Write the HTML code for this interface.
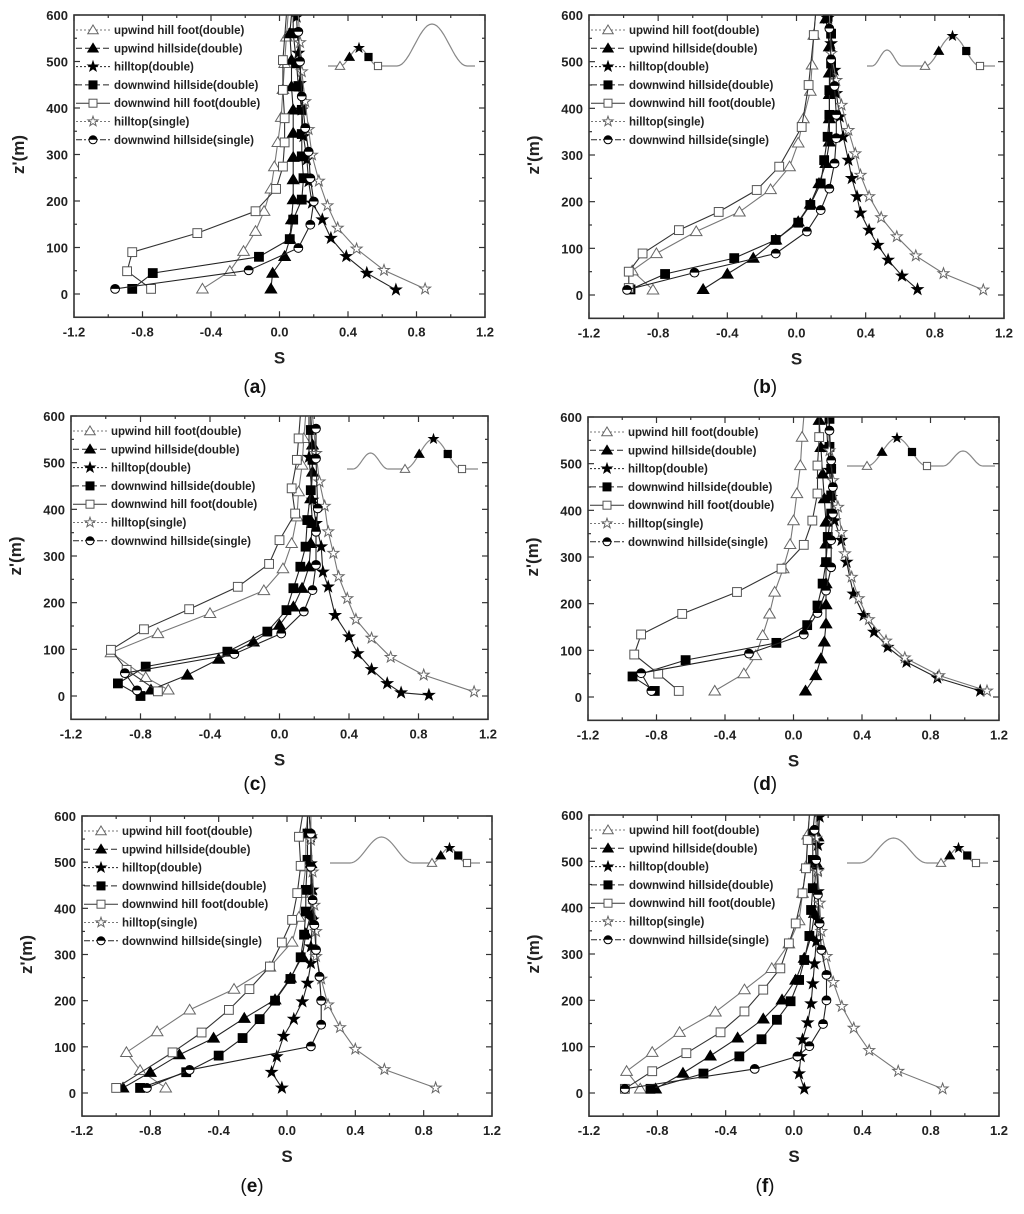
<!DOCTYPE html>
<html><head><meta charset="utf-8"><style>
body{margin:0;background:#fff}
svg{display:block}
text{font-family:"Liberation Sans",sans-serif}
</style></head><body>
<svg id="fig" width="1024" height="1214" viewBox="0 0 1024 1214" xmlns="http://www.w3.org/2000/svg"></svg>
<script>
// ---- data: [S, z'] pairs ----
const a_upFoot=[[-0.45,11],[-0.29,49],[-0.21,92],[-0.14,135],[-0.09,178],[-0.05,226],[-0.03,274],[-0.01,326],[0.01,380],[0.02,440],[0.03,496],[0.04,553],[0.05,600]];
const a_upSide=[[-0.05,11],[-0.04,45],[0.03,81],[0.06,118],[0.07,160],[0.08,203],[0.08,246],[0.08,294],[0.08,346],[0.08,396],[0.07,446],[0.07,503],[0.06,560],[0.07,600]];
const a_top=[[0.68,9],[0.51,45],[0.39,81],[0.30,120],[0.25,160],[0.19,196],[0.17,242],[0.16,289],[0.14,339],[0.13,396],[0.12,453],[0.11,518],[0.10,596]];
const a_dwSide=[[-0.86,11],[-0.74,45],[-0.12,80],[0.06,118],[0.08,160],[0.13,203],[0.14,249],[0.13,296],[0.13,344],[0.13,396],[0.11,446],[0.10,496],[0.08,561],[0.08,600]];
const a_dwFoot=[[-0.75,11],[-0.89,49],[-0.86,90],[-0.48,131],[-0.14,178],[-0.02,226],[0.02,274],[0.03,326],[0.03,378],[0.02,439],[0.02,503],[0.04,600]];
const a_topS=[[0.85,11],[0.61,51],[0.45,97],[0.34,142],[0.28,190],[0.23,243],[0.19,299],[0.17,354],[0.15,414],[0.13,478],[0.12,541],[0.11,600]];
const a_dwSideS=[[-0.96,11],[-0.18,51],[0.11,99],[0.18,149],[0.20,199],[0.18,249],[0.17,306],[0.15,357],[0.13,425],[0.12,500],[0.11,564]];

const b_upFoot=[[-0.83,11],[-0.95,52],[-0.81,89],[-0.58,136],[-0.33,178],[-0.15,226],[-0.04,275],[0.01,326],[0.04,378],[0.08,437],[0.09,493],[0.10,557],[0.11,600]];
const b_upSide=[[-0.54,12],[-0.40,45],[-0.25,79],[-0.12,118],[0.01,157],[0.08,195],[0.13,239],[0.17,282],[0.19,328],[0.19,378],[0.19,430],[0.19,476],[0.19,532],[0.17,592]];
const b_top=[[0.70,12],[0.61,41],[0.53,75],[0.47,107],[0.42,139],[0.37,176],[0.35,211],[0.32,250],[0.30,289],[0.27,339],[0.25,382],[0.23,432],[0.22,482],[0.20,539],[0.18,593]];
const b_dwSide=[[-0.96,12],[-0.76,45],[-0.36,79],[-0.12,118],[0.01,155],[0.08,193],[0.14,239],[0.16,289],[0.18,339],[0.19,386],[0.19,439],[0.20,496],[0.20,560],[0.18,596]];
const b_dwFoot=[[-0.97,15],[-0.97,50],[-0.89,89],[-0.68,139],[-0.45,178],[-0.23,225],[-0.10,275],[0.03,360],[0.07,450],[0.10,557],[0.11,600]];
const b_topS=[[1.08,11],[0.85,46],[0.69,84],[0.58,125],[0.49,166],[0.42,211],[0.37,257],[0.34,303],[0.30,353],[0.26,407],[0.23,460],[0.20,518],[0.19,600]];
const b_dwSideS=[[-0.98,11],[-0.59,48],[-0.12,89],[0.06,136],[0.14,182],[0.19,228],[0.22,282],[0.23,336],[0.23,386],[0.22,448],[0.20,505],[0.19,571]];

const c_upFoot=[[-0.64,13],[-0.77,40],[-0.97,93],[-0.70,134],[-0.40,177],[-0.09,226],[0.02,273],[0.07,327],[0.10,384],[0.11,438],[0.13,495],[0.14,552],[0.15,600]];
const c_upSide=[[-0.74,13],[-0.53,45],[-0.35,79],[-0.15,116],[0.00,152],[0.08,191],[0.13,231],[0.17,277],[0.18,327],[0.19,370],[0.18,423],[0.19,480],[0.19,538],[0.18,600]];
const c_top=[[0.86,2],[0.70,7],[0.62,27],[0.53,57],[0.45,91],[0.40,127],[0.32,173],[0.28,234],[0.25,266],[0.24,320],[0.21,370],[0.19,420],[0.17,512],[0.17,598]];
const c_dwSide=[[-0.80,0],[-0.93,27],[-0.77,63],[-0.30,95],[-0.07,138],[0.04,184],[0.08,231],[0.12,277],[0.15,320],[0.16,377],[0.18,441],[0.19,506],[0.18,570],[0.18,600]];
const c_dwFoot=[[-0.70,10],[-0.88,56],[-0.97,99],[-0.78,143],[-0.52,186],[-0.24,234],[-0.06,283],[0.00,334],[0.09,391],[0.07,445],[0.10,506],[0.11,552],[0.12,600]];
const c_topS=[[1.12,9],[0.83,45],[0.64,83],[0.53,124],[0.44,164],[0.39,209],[0.34,256],[0.31,306],[0.28,352],[0.26,407],[0.23,459],[0.21,520],[0.19,600]];
const c_dwSideS=[[-0.82,12],[-0.89,49],[-0.26,90],[0.01,134],[0.14,181],[0.19,227],[0.21,281],[0.21,352],[0.22,402],[0.21,509],[0.21,573]];

const d_upFoot=[[-0.46,13],[-0.29,50],[-0.22,89],[-0.18,132],[-0.14,178],[-0.11,225],[-0.06,275],[-0.02,327],[0.00,378],[0.02,436],[0.04,496],[0.05,557],[0.06,600]];
const d_upSide=[[0.07,13],[0.13,46],[0.16,82],[0.18,118],[0.19,157],[0.19,198],[0.19,243],[0.19,289],[0.19,328],[0.19,375],[0.18,425],[0.17,478],[0.16,535],[0.15,593]];
const d_top=[[1.09,13],[0.84,41],[0.66,75],[0.55,107],[0.47,139],[0.41,175],[0.35,221],[0.31,289],[0.28,336],[0.24,378],[0.22,428],[0.21,486],[0.20,536],[0.19,600]];
const d_dwSide=[[-0.81,13],[-0.94,44],[-0.63,79],[-0.10,116],[0.08,154],[0.14,196],[0.17,243],[0.19,289],[0.20,343],[0.22,393],[0.22,432],[0.22,489],[0.21,536],[0.21,596]];
const d_dwFoot=[[-0.67,13],[-0.79,50],[-0.93,91],[-0.89,134],[-0.65,178],[-0.33,225],[-0.07,275],[0.06,326],[0.11,378],[0.14,436],[0.14,496],[0.15,557],[0.15,600]];
const d_topS=[[1.13,13],[0.85,46],[0.65,84],[0.54,120],[0.44,166],[0.38,211],[0.34,257],[0.30,307],[0.28,353],[0.26,407],[0.23,464],[0.21,528],[0.20,600]];
const d_dwSideS=[[-0.83,13],[-0.89,51],[-0.26,93],[0.06,134],[0.14,180],[0.19,228],[0.22,278],[0.22,336],[0.23,393],[0.23,450],[0.22,507],[0.21,571]];

const e_upFoot=[[-0.71,11],[-0.86,49],[-0.94,88],[-0.76,133],[-0.57,180],[-0.31,225],[-0.10,273],[0.03,327],[0.07,381],[0.09,433],[0.11,490],[0.11,562],[0.12,600]];
const e_upSide=[[-0.96,11],[-0.80,45],[-0.63,83],[-0.43,119],[-0.25,162],[-0.07,202],[0.02,249],[0.09,296],[0.11,345],[0.14,389],[0.14,440],[0.14,497],[0.14,562],[0.13,600]];
const e_top=[[-0.03,11],[-0.09,45],[-0.06,79],[-0.02,123],[0.04,160],[0.09,198],[0.12,238],[0.14,281],[0.14,317],[0.15,375],[0.15,440],[0.14,497],[0.14,555],[0.13,600]];
const e_dwSide=[[-0.86,11],[-0.59,45],[-0.40,81],[-0.26,119],[-0.16,160],[-0.07,200],[0.02,247],[0.08,294],[0.10,343],[0.11,393],[0.11,440],[0.12,505],[0.12,562],[0.12,600]];
const e_dwFoot=[[-1.00,11],[-0.67,88],[-0.50,131],[-0.34,180],[-0.22,225],[-0.10,274],[-0.03,326],[0.03,375],[0.06,433],[0.08,492],[0.07,555],[0.09,600]];
const e_topS=[[0.87,11],[0.57,51],[0.40,95],[0.31,142],[0.24,191],[0.20,247],[0.17,296],[0.17,350],[0.16,407],[0.15,479],[0.14,548],[0.14,600]];
const e_dwSideS=[[-0.82,11],[-0.57,50],[0.14,101],[0.20,148],[0.20,200],[0.19,252],[0.17,310],[0.16,364],[0.15,418],[0.14,490],[0.14,562]];

const f_upFoot=[[-0.90,9],[-0.98,47],[-0.83,88],[-0.67,131],[-0.46,175],[-0.29,223],[-0.13,269],[-0.03,322],[0.03,372],[0.05,431],[0.07,489],[0.08,557],[0.09,600]];
const f_upSide=[[-0.81,9],[-0.65,43],[-0.49,80],[-0.33,119],[-0.18,160],[-0.07,201],[0.01,244],[0.06,291],[0.10,338],[0.12,388],[0.12,442],[0.13,496],[0.14,553],[0.14,600]];
const f_top=[[0.06,9],[0.03,42],[0.04,79],[0.05,115],[0.08,152],[0.10,193],[0.11,236],[0.12,279],[0.13,327],[0.14,374],[0.14,435],[0.14,481],[0.14,535],[0.15,596]];
const f_dwSide=[[-0.84,9],[-0.53,42],[-0.32,79],[-0.19,116],[-0.10,158],[-0.02,198],[0.03,244],[0.06,287],[0.09,339],[0.10,395],[0.11,442],[0.11,503],[0.11,560],[0.12,600]];
const f_dwFoot=[[-0.99,9],[-0.83,47],[-0.63,86],[-0.43,131],[-0.29,176],[-0.18,223],[-0.08,269],[-0.03,323],[0.01,366],[0.05,431],[0.07,485],[0.08,546],[0.09,600]];
const f_topS=[[0.87,9],[0.61,47],[0.44,92],[0.35,140],[0.28,187],[0.23,239],[0.19,295],[0.16,349],[0.15,410],[0.14,478],[0.13,550],[0.13,600]];
const f_dwSideS=[[-0.99,9],[-0.23,52],[0.02,79],[0.09,101],[0.17,149],[0.19,200],[0.19,255],[0.16,309],[0.15,366],[0.14,428],[0.13,503],[0.12,568]];

const seriesNames=["upwind hill foot(double)","upwind hillside(double)","hilltop(double)","downwind hillside(double)","downwind hill foot(double)","hilltop(single)","downwind hillside(single)"];
const seriesKeys=["up-foot","up-side","hilltop","dw-side","dw-foot","hilltop-single","dw-side-single"];
const xTicks=[-1.2,-0.8,-0.4,0.0,0.4,0.8,1.2];
const yTicks=[0,100,200,300,400,500,600];

const NS="http://www.w3.org/2000/svg";
const svg=document.getElementById('fig');
function el(tag,attrs,parent){const e=document.createElementNS(NS,tag);for(const k in attrs)e.setAttribute(k,attrs[k]);(parent||svg).appendChild(e);return e;}

const panels=[
 {id:'a',x0:74,x1:485,top:15,zero:294,cx:255,cy:393,data:[a_upFoot,a_upSide,a_top,a_dwSide,a_dwFoot,a_topS,a_dwSideS],inset:{xs:328,xe:475,base:66,h1:[340,378,48],h2:[397,467,24],marked:1}},
 {id:'b',x0:589,x1:1004,top:15,zero:295,cx:765,cy:393,data:[b_upFoot,b_upSide,b_top,b_dwSide,b_dwFoot,b_topS,b_dwSideS],inset:{xs:867,xe:995,base:66,h1:[872,902,50],h2:[925,980,36],marked:2}},
 {id:'c',x0:71,x1:488,top:416,zero:696,cx:255,cy:790,data:[c_upFoot,c_upSide,c_top,c_dwSide,c_dwFoot,c_topS,c_dwSideS],inset:{xs:347,xe:478,base:469,h1:[353,388,453],h2:[405,462,439],marked:2}},
 {id:'d',x0:588,x1:999,top:417,zero:697,cx:765,cy:790,data:[d_upFoot,d_upSide,d_top,d_dwSide,d_dwFoot,d_topS,d_dwSideS],inset:{xs:847,xe:995,base:466,h1:[867,927,438],h2:[943,983,451],marked:1}},
 {id:'e',x0:82,x1:492,top:816,zero:1093,cx:252,cy:1192,data:[e_upFoot,e_upSide,e_top,e_dwSide,e_dwFoot,e_topS,e_dwSideS],inset:{xs:330,xe:480,base:863,h1:[350,413,837],h2:[432,467,848],marked:2}},
 {id:'f',x0:589,x1:999,top:815,zero:1093,cx:765,cy:1192,data:[f_upFoot,f_upSide,f_top,f_dwSide,f_dwFoot,f_topS,f_dwSideS],inset:{xs:847,xe:988,base:863,h1:[860,927,838],h2:[941,976,848],marked:2}}
];
const lineColor=["#777","#222","#222","#222","#333","#777","#222"];
const dashes=["2,2","6,3","2,2","6,3","","2,2","6,2,2,2"];

function marker(g,type,x,y,r){
  const bk="#000";
  if(type===0||type===1){el('path',{d:`M${x},${y-r} L${x+r*1.05},${y+r*0.75} L${x-r*1.05},${y+r*0.75} Z`,fill:type?bk:'#fff',stroke:type?bk:'#666','stroke-width':1},g);}
  else if(type===2||type===5){let p='';for(let i=0;i<10;i++){const a=-Math.PI/2+i*Math.PI/5;const rr=i%2?r*0.42:r*1.05;p+=(i?'L':'M')+(x+rr*Math.cos(a)).toFixed(1)+','+(y+rr*Math.sin(a)).toFixed(1);}el('path',{d:p+'Z',fill:type===2?bk:'#fff',stroke:type===2?bk:'#666','stroke-width':1},g);}
  else if(type===3||type===4){el('rect',{x:x-r*0.8,y:y-r*0.8,width:r*1.6,height:r*1.6,fill:type===3?bk:'#fff',stroke:type===3?bk:'#555','stroke-width':1},g);}
  else {el('circle',{cx:x,cy:y,r:r*0.8,fill:'#fff',stroke:'#000','stroke-width':1},g);el('path',{d:`M${x-r*0.8},${y} A${r*0.8},${r*0.8} 0 0 1 ${x+r*0.8},${y} Z`,fill:bk},g);}
}

panels.forEach(P=>{
  const g=el('g',{});
  
  
  const bottom=P.zero+(P.zero-P.top)/12;
  const xs=s=>P.x0+(s+1.2)/2.4*(P.x1-P.x0);
  const ys=z=>P.zero-z/600*(P.zero-P.top);
  // ticks
  for(let v=-1.2;v<=1.2001;v+=0.2){const X=xs(v);const major=Math.abs(Math.round(v/0.4)*0.4-v)<1e-6;const L=major?6:3;
    el('line',{x1:X,y1:bottom,x2:X,y2:bottom-L,stroke:'#333','stroke-width':1.2},g);el('line',{x1:X,y1:P.top,x2:X,y2:P.top+L,stroke:'#333','stroke-width':1.2},g);}
  for(let v=-50;v<=600;v+=50){const Y=ys(v);const L=v%100===0?6:3;
    el('line',{x1:P.x0,y1:Y,x2:P.x0+L,y2:Y,stroke:'#333','stroke-width':1.2},g);el('line',{x1:P.x1,y1:Y,x2:P.x1-L,y2:Y,stroke:'#333','stroke-width':1.2},g);}
  xTicks.forEach(v=>{const t=el('text',{x:xs(v),y:bottom+19,'text-anchor':'middle','font-size':13,'font-weight':'bold',fill:'#222'},g);t.textContent=v.toFixed(1);
    });
  yTicks.forEach(v=>{const t=el('text',{x:P.x0-6,y:ys(v)+5,'text-anchor':'end','font-size':13,'font-weight':'bold',fill:'#222'},g);t.textContent=v;
    });
  const xl=el('text',{x:(P.x0+P.x1)/2,y:bottom+46,'text-anchor':'middle','font-size':17,'font-weight':'bold',fill:'#222'},g);xl.textContent='S';
  
  const yx=P.x0-50,yy=(P.top+P.zero)/2;
  const yl=el('text',{x:yx,y:yy,'text-anchor':'middle','font-size':17,'font-weight':'bold',fill:'#222',transform:`rotate(-90 ${yx} ${yy})`},g);yl.textContent="z'(m)";
  
  const cap=el('text',{x:P.cx,y:P.cy,'text-anchor':'middle','font-size':19,'font-family':'Liberation Serif,serif',fill:'#111'},g);
  cap.innerHTML='(<tspan font-weight="bold">'+P.id+'</tspan>)';
  
  // clip
  const cp=el('clipPath',{id:'clip'+P.id},g);el('rect',{x:P.x0,y:P.top,width:P.x1-P.x0,height:bottom-P.top},cp);
  const plot=el('g',{'clip-path':`url(#clip${P.id})`},g);
  // legend
  seriesNames.forEach((nm,i)=>{const ly=P.top+15+i*18.3;const lx=P.x0;
    const lg=el('g',{},g);
    
    el('line',{x1:lx+2,y1:ly,x2:lx+36,y2:ly,stroke:lineColor[i],'stroke-width':1,'stroke-dasharray':dashes[i]},lg);
    marker(lg,i,lx+19,ly,5);
    const t=el('text',{x:lx+40,y:ly+4,'font-size':11.5,'font-weight':'bold',fill:'#222'},lg);t.textContent=nm;});
  // series
  P.data.forEach((arr,i)=>{const sg=el('g',{},plot);
    
    el('polyline',{points:arr.map(p=>xs(p[0]).toFixed(1)+','+ys(p[1]).toFixed(1)).join(' '),fill:'none',stroke:lineColor[i],'stroke-width':1.1},sg);
    arr.forEach(p=>{if(p[1]<598)marker(sg,i,xs(p[0]),ys(p[1]),5.5);});
  });
  // inset hill sketch
  const I=P.inset;const ig=el('g',{},g);
  
  function hill(h){const [a,b,pk]=h;let d='';const n=30;for(let k=0;k<=n;k++){const t=k/n;const x=a+(b-a)*t;const y=I.base-(I.base-pk)*(1-Math.cos(2*Math.PI*t))/2;d+=(k?'L':'M')+x.toFixed(1)+','+y.toFixed(1);}return d;}
  el('path',{d:`M${I.xs},${I.base} L${I.h1[0]},${I.base} `+hill(I.h1).replace('M','L')+` L${I.h2[0]},${I.base} `+hill(I.h2).replace('M','L')+` L${I.xe},${I.base}`,fill:'none',stroke:'#888','stroke-width':1.2},ig);
  const mh=I.marked===1?I.h1:I.h2;
  [0,0.25,0.5,0.75,1].forEach((t,k)=>{const x=mh[0]+(mh[1]-mh[0])*t;const y=I.base-(I.base-mh[2])*(1-Math.cos(2*Math.PI*t))/2;marker(ig,[0,1,2,3,4][k],x,y,4.5);});
  // frame
  el('rect',{x:P.x0,y:P.top,width:P.x1-P.x0,height:bottom-P.top,fill:'none',stroke:'#333','stroke-width':1.6},g);
});
</script>
</body></html>
